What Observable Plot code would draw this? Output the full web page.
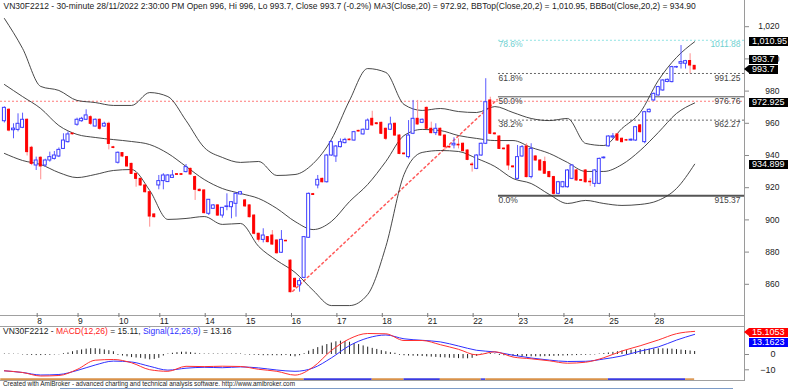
<!DOCTYPE html>
<html><head><meta charset="utf-8">
<script src="https://cdn.jsdelivr.net/npm/d3@7"></script>
<script src="https://cdn.jsdelivr.net/npm/@observablehq/plot@0.6"></script>
<style>
body{margin:0;background:#fff;}
#wrap{position:relative;width:788px;height:390px;overflow:hidden;background:#fff;font-family:Arial,"Liberation Sans",sans-serif;}
#wrap svg{position:absolute;left:0;}
.tag{position:absolute;height:9px;line-height:9px;font-size:9px;color:#fff;padding:0 3px;white-space:nowrap;}
.arr{position:absolute;width:0;height:0;border-top:4.5px solid transparent;border-bottom:4.5px solid transparent;}
.txt{position:absolute;white-space:nowrap;}
</style></head><body><div id="wrap"></div><script>
// ---------- data ----------
const open = [961.6,968.7,956,956.2,957.5,962.5,945.1,934.1,938.9,934.1,
937.2,938.2,939.7,944.4,948.6,953.9,959.4,961.6,962.5,964.1,
958.3,962.5,958.3,960,945.4,935.8,941.8,939.3,935.1,928.9,
925.8,921.7,917.5,903.7,921.7,924.4,923.8,926.4,928.7,928.7,
930,932,926.9,919,918.6,904.1,907.2,909.3,903,908.3,
908.2,910.3,916.1,912.4,909.3,903,891.7,887.9,889.6,890.6,
887.5,879.9,887.3,875,863.7,859.6,864.3,889.2,916.3,921.7,
925.8,923.7,940.3,939.7,945.5,948,950.2,949.6,955.6,953.4,
956.3,963.1,960.3,960.6,956.9,956.3,960,952.7,941.5,939.3,
953.8,963.1,960.6,969.9,956.9,954.2,956.9,952.7,945.7,946.6,
947,947.6,943.4,934.7,932,940.3,947.6,974.5,954,952.1,
944.6,946.5,933.5,925.8,939.7,945.9,926.9,939.7,937.2,936.2,
930,926.9,916.5,920.6,920.6,925.8,931,925,931,924,
922.7,922.7,938.6,946,951.5,953.4,950.7,949.8,949.6,949.6,
959,948.6,967.2,974.5,977.6,980.7,986,985.9,995,997.3,
997.3,999,996];
const high = [970.5,969.5,960,966.2,966.6,963,946,939.3,939.5,938,
942.4,942.8,945,953.8,955,954.3,963.5,964,968.7,965,
963,963,961,961,946,942.5,942,939.8,935.5,929.5,
926,922,918,904,927.9,929,928.5,931,929,929,
934.7,932.5,927.5,919.5,919,913,909.8,909.8,908,916.5,
911.5,917,918,913,909.8,903.5,892,894.8,890,893.7,
888,893.7,887.8,875.5,864.2,864,890,917,916.8,927.9,
926.3,941,949.5,946.5,950.6,951,950.6,955.3,956,956.8,
963,967.8,960.8,961,957.3,964.1,960.5,953.2,942,962,
974.5,974.5,963,970.4,961,960,957.4,953.2,946.2,951.3,
950.7,948.1,943.9,936,940.8,948,988,976.5,954.5,952.6,
945,947,934,946.5,946.5,947.6,947.6,940.2,937.7,939.3,
930.5,927.4,924.2,924.2,931.5,934.6,931.5,925.5,931.5,926,
931.5,938.7,939.5,952.6,954,953.9,951.2,950.3,950.6,958.4,
959.5,967.7,969.2,979.1,983.3,987.4,987.8,995.7,995.7,1008.6,
999.4,1003.5,996];
const low = [960.5,955,950.7,955,957,940,934,931,925.2,933,
936.2,937.5,939,944,948,953,958.5,961,962,959,
958,956,957.8,943.8,944.5,935,939,933,928.5,920.6,
921.2,917,895.8,901.5,919,919,923.5,926,928,928,
929.5,928,912.4,917.8,904,903,906.8,902.5,901.4,906,
901,902,915.8,908,901.5,891,886.5,886,886,884.5,
879,879.5,886.8,855,858,855.4,863.8,888.8,915.5,919.6,
923.2,923.2,939.8,936,945,947.5,949.5,949.2,955,953,
955.9,958.5,959.3,953.3,949.6,955.8,952.2,940.8,940.6,938.2,
953.3,959.1,960.1,956.4,953.7,952.7,952.2,943.4,944.8,944.4,
944.4,942.5,937.1,930,931.5,939.8,947.1,953.3,953,944,
943.7,931,932.5,925,939.2,926.4,925.8,936.7,930.5,928.5,
926.4,915.4,916,920.1,920.1,925.3,924.3,924.1,923.2,921,
920.5,922.2,938.1,945.5,950.5,949.1,948.1,949.1,949.1,949.1,
954.3,947.6,966.7,974,977.1,980.2,985.5,985.4,994.5,994,
994,991,993.7];
const close = [969.9,955.8,957,960,962.5,942.4,935.1,937.2,933.5,937.2,
939.3,940.3,943.8,949.6,953.4,953.5,962.5,963.1,965.2,960,
962.5,956.9,960,947.5,945,942,939.7,933.5,928.9,925.8,
921.7,917.5,902.4,902,924.4,927.9,927.9,927.9,928.3,928.3,
933.1,928.5,919,918.2,904.5,912.8,909.3,903,907.8,908.7,
911.3,916.5,917.5,908.7,902,891.7,888,890.6,886.5,885,
879.6,887.9,887,855.4,858.5,862.3,889.6,916.5,915.8,925.2,
923.7,940.3,948.6,945.9,948.6,950,949.8,954.8,955.2,956.3,
962,959,959.8,953.8,950.7,959.6,952.7,941.3,941.1,952.7,
963.1,959.6,962.5,956.9,954.2,956.9,952.7,945.5,945.3,947.6,
946.6,943,937.6,934.3,940.3,947.6,973.4,953.8,953.5,944.4,
944.2,934.1,933,939.3,945.5,926.9,944.4,937.2,931,929,
926.9,916.5,923.7,923.7,931,934.1,924.8,924.6,923.7,923.7,
931,938.2,939,952.1,952.2,949.6,948.6,949.6,950.1,957.9,
954.8,967.2,968.7,978.6,982.8,986.9,987.3,995.2,995.2,998.3,
998.9,996.2,993.7];

const dayLabels = ["8","9","10","11","14","15","16","17","18","21","22","23","24","25","28"];
const dayStart  = [7,16,25,34,44,53,63,73,83,93,103,113,123,133,143];

// Bollinger bands, read every 4 bars
const bbIdx = [0,4,8,12,16,20,24,28,32,36,40,44,48,52,56,60,64,68,72,76,80,84,88,92,96,100,104,108,112,116,120,124,128,132,136,140,144,148,152];
const bbTop = [1025.4,1006.8,983.2,980.7,974.5,973.2,971.4,971.4,979.4,976.9,962.0,945.3,939.1,936.0,936.6,927.9,928.5,935.3,950.2,974.5,994.3,991.9,972.0,968.3,969.5,967.6,967.0,970.7,967.0,963.3,962.0,963.3,947.8,946.5,957.1,967.0,986.9,1001.2,1010.95];
const bbMid = [984.4,976.9,969.5,958.9,953.4,951.5,950.2,949.0,947.1,941.6,933.5,925.4,919.8,916.7,913.6,907.4,899.3,894.3,899.3,911.7,922.3,936.6,952.7,956.5,955.8,952.7,950.9,949.6,949.6,945.3,941.6,936.0,930.4,930.4,934.7,943.4,954.6,966.4,972.925];
const bbBot = [941.6,937.2,934.7,929.7,926.6,928.5,931.0,931.6,918.6,900.6,901.2,902.4,897.5,898.1,883.8,875.1,867.7,856.5,847.1,847.1,854.0,883.8,928.5,942.2,943.4,942.8,938.5,933.5,926.0,922.9,916.1,910.5,912.4,910.5,909.3,909.9,912.4,919.8,934.899];

// MACD and signal read at the same bars
const macdLine = [-10.65,-11.76,-14.05,-13.73,-9.80,-3.73,-3.27,-5.42,-9.93,-10.98,-7.71,-7.91,-7.65,-7.84,-9.67,-10.98,-13.46,-8.17,2.61,10.26,13.73,13.53,9.15,9.15,6.41,3.40,-0.26,1.76,-1.63,-2.81,-4.12,-5.69,-5.03,-2.09,2.29,5.69,9.48,13.59,15.11];
const signalLine = [-10.65,-11.76,-13.40,-13.07,-10.46,-6.86,-4.31,-4.90,-7.71,-10.20,-8.95,-8.37,-8.63,-8.10,-8.76,-10.13,-10.98,-8.82,-2.22,5.82,10.78,12.75,10.26,9.28,8.24,5.56,2.75,1.70,-0.46,-2.29,-3.66,-4.58,-4.44,-2.94,-0.92,2.22,4.97,9.41,13.16];
const macdHist = [0.3,0.3,0.2,0.2,-0.3,-0.5,-0.6,-0.7,-0.7,-0.6,
-0.5,-0.3,-0.2,0.5,1,1.8,2.5,3,3.5,3.8,
3.8,3.5,3,2.5,1.8,-0.5,-1,-1.5,-2,-2.3,
-2.5,-3,-3.5,-3.2,-2.5,-1,0.3,0.8,1.2,1.5,
1.5,1.2,0.8,0.4,0.3,0.3,0.3,0.3,0.3,0.3,
0.3,0.4,0.3,-0.3,-0.4,-0.5,-0.6,-0.8,-0.8,-0.8,
-0.8,-0.8,-0.6,-1.2,-1.5,-0.8,0.5,2.2,3.3,4.5,
5.5,6.5,7.5,8.3,8.7,8.5,8,7.2,6.5,5.6,
4.8,4,3.3,2.5,1.8,1.2,0.8,-0.5,-0.8,-1.0,
-1.1,-1.2,-1.3,-1.5,-1.7,-1.9,-2.1,-2.2,-2.4,-2.5,
-2.7,-2.8,-2.8,-2.5,-1.2,0.3,0.6,0.6,0.3,-0.6,
-0.8,-1,-1.2,-1.3,-1.4,-1.5,-1.5,-1.5,-1.5,-1.4,
-1.3,-1.2,-1.1,-1.0,-0.9,-0.8,-0.7,-0.6,-0.5,-0.4,
-0.3,0.3,0.6,1.0,1.4,1.8,2.2,2.5,2.8,3.0,
3.2,3.4,3.5,3.6,3.7,3.7,3.6,3.5,3.2,2.9,
2.6,2.3,1.95];
const ribbonFrom  = [-0.8,66,81,88,96,105,106,133,150];
const ribbonTo    = [66,81,88,96,105,106,133,150,152];
const ribbonState = ["down","up","down","up","down","up","down","up","down"];

// Fibonacci retracement
const fibPct = ["78.6%","61.8%","50.0%","38.2%","0.0%"];
const fibVal = [1011.88,991.25,976.76,962.27,915.37];
const fibFrom = 108.8;
// drawn lines
const refLevel = 974;
const trendIdx = [63.5,108.5];
const trendVal = [856,975];

const yTicks = [860,880,900,920,940,960,980,1000,1020];
const macdTicks = [-10,0];
const tagText  = ["1,010.95","993.7","993.7","972.925","934.899"];
const tagValue = [1010.95,993.7,993.7,972.925,934.899];
const macdTagText  = ["15.1053","13.1623"];
const macdTagValue = [15.1053,13.1623];

const titleText = "VN30F2212 - 30-minute 28/11/2022 2:30:00 PM Open 996, Hi 996, Lo 993.7, Close 993.7 (-0.2%) MA3(Close,20) = 972.92, BBTop(Close,20,2) = 1,010.95, BBBot(Close,20,2) = 934.90";
const footerText = "Created with AmiBroker - advanced charting and technical analysis software. http://www.amibroker.com";

// ---------- build ----------
const FONT = "Arial, 'Liberation Sans', sans-serif";
const xDomain = [-0.86, 162.98];
const bars = open.map((o, i) => ({i, o, h: high[i], l: low[i], c: close[i], up: close[i] >= o}));
const upBars = bars.filter(d => d.up), dnBars = bars.filter(d => !d.up);
const band = arr => bbIdx.map((x, k) => ({x, y: arr[k]}));
const fib = fibPct.map((p, k) => ({p, v: fibVal[k]}));
const fibStyle = {
  "78.6%": {stroke: "#8fe3e3", dash: "2,2", w: 1, text: "#6fd0d0"},
  "61.8%": {stroke: "#666", dash: "2,2", w: 1, text: "#444"},
  "50.0%": {stroke: "#555", dash: null, w: 1, text: "#444"},
  "38.2%": {stroke: "#666", dash: "2,2", w: 1, text: "#444"},
  "0.0%":  {stroke: "#555", dash: null, w: 2, text: "#444"}
};
const fibMarks = fib.map(d => Plot.ruleY([d], {y: "v", x1: () => fibFrom, x2: () => xDomain[1], stroke: fibStyle[d.p].stroke, strokeWidth: fibStyle[d.p].w, strokeDasharray: fibStyle[d.p].dash || undefined}));

const main = Plot.plot({
  width: 788, height: 326,
  marginLeft: 0, marginRight: 44, marginTop: 0, marginBottom: 11,
  x: {domain: xDomain, axis: null},
  y: {domain: [840.93, 1036.58], axis: null},
  style: {fontFamily: FONT, background: "transparent", color: "#222"},
  marks: [
    Plot.ruleY([refLevel], {stroke: "#ff7a7a", strokeDasharray: "2,2"}),
    ...fibMarks,
    Plot.text(fib, {x: () => fibFrom, y: "v", text: "p", textAnchor: "start", lineAnchor: "top", dy: 1, dx: 0, fontSize: 8.5, fill: d => fibStyle[d.p].text}),
    Plot.text(fib, {x: () => xDomain[1], y: "v", text: d => d.v.toFixed(2), textAnchor: "end", lineAnchor: "top", dy: 1, dx: -4, fontSize: 8.5, fill: d => fibStyle[d.p].text}),
    Plot.line(trendIdx.map((x, k) => ({x, y: trendVal[k]})), {x: "x", y: "y", stroke: "#ff5a5a", strokeDasharray: "2,3"}),
    Plot.line(band(bbTop), {x: "x", y: "y", stroke: "#333", strokeWidth: 0.9, curve: "monotone-x"}),
    Plot.line(band(bbMid), {x: "x", y: "y", stroke: "#333", strokeWidth: 0.9, curve: "monotone-x"}),
    Plot.line(band(bbBot), {x: "x", y: "y", stroke: "#333", strokeWidth: 0.9, curve: "monotone-x"}),
    Plot.ruleX(bars, {x: "i", y1: "l", y2: "h", stroke: d => d.up ? "#5a5aff" : "#ff8f8f", strokeWidth: 1}),
    Plot.rect(dnBars, {x1: d => d.i - 0.22, x2: d => d.i + 0.22, y1: "o", y2: "c", fill: "#ff0000", stroke: "#ff0000", strokeWidth: 1}),
    Plot.rect(upBars, {x1: d => d.i - 0.33, x2: d => d.i + 0.33, y1: "o", y2: "c", fill: "#fff", stroke: "#3c3cff", strokeWidth: 1}),
    Plot.frame({anchor: "bottom", stroke: "#a0a0a0"}),
    Plot.axisY({anchor: "right", ticks: yTicks, tickFormat: d3.format(","), tickSize: 4, tickPadding: 31, textAnchor: "end", fontSize: 8.5, dy: -0.5, stroke: "#888", fill: "#222"}),
    Plot.axisX({anchor: "bottom", ticks: dayStart, tickFormat: d => dayLabels[dayStart.indexOf(d)], tickSize: 4, tickPadding: 0, dy: -2, textAnchor: "start", dx: 1, fontSize: 8.5, stroke: "#777", fill: "#222"}),
    Plot.text([titleText], {frameAnchor: "top-left", dx: 3, dy: 2, lineAnchor: "top", fontSize: 8.5, fill: "#222"})
  ]
});
main.style.top = "0px";

const histData = macdHist.map((h, i) => ({i, h}));
const mline = arr => bbIdx.map((x, k) => ({x, y: arr[k]}));
const ribbon = ribbonFrom.map((f, k) => ({f, t: ribbonTo[k], s: ribbonState[k]}));
const mYDomain = [-16.99, 18.30];
const macd = Plot.plot({
  width: 788, height: 64,
  marginLeft: 0, marginRight: 44, marginTop: 0, marginBottom: 10,
  x: {domain: xDomain, axis: null},
  y: {domain: mYDomain, axis: null},
  style: {fontFamily: FONT, background: "transparent", color: "#222"},
  marks: [
    Plot.ruleX(histData, {x: "i", y1: () => 0, y2: "h", stroke: "#222", strokeWidth: 1}),
    Plot.line(mline(signalLine), {x: "x", y: "y", stroke: "#3030ff", strokeWidth: 1, curve: "monotone-x"}),
    Plot.line(mline(macdLine), {x: "x", y: "y", stroke: "#ff3030", strokeWidth: 1, curve: "monotone-x"}),
    Plot.ruleY(ribbon, {y: () => mYDomain[0] + 0.9, x1: "f", x2: "t", stroke: d => d.s === "up" ? "#3a3ae0" : "#d9924a", strokeWidth: 1.6}),
    Plot.frame({anchor: "top", stroke: "#a0a0a0"}),
    Plot.frame({anchor: "bottom", stroke: "#a0a0a0"}),
    Plot.axisY({anchor: "right", ticks: macdTicks, tickSize: 4, tickPadding: 27, textAnchor: "end", fontSize: 9, stroke: "#888", fill: "#222"})
  ]
});
macd.style.top = "326px";

const wrap = document.getElementById("wrap");
wrap.appendChild(main);
wrap.appendChild(macd);

// right vertical axis line through both panels
const vline = document.createElement("div");
Object.assign(vline.style, {position: "absolute", left: "744px", top: "0px", width: "1px", height: "381px", background: "#9a9a9a"});
wrap.appendChild(vline);

function tag(text, yPix, bg, arrow) {
  const d = document.createElement("div");
  d.className = "tag"; d.textContent = text;
  d.style.background = bg; d.style.left = "749px"; d.style.top = (yPix - 4.5) + "px";
  wrap.appendChild(d);
  if (arrow) {
    const a = document.createElement("div");
    a.className = "arr"; a.style.borderRight = "5px solid " + bg;
    a.style.left = "744px"; a.style.top = (yPix - 4.5) + "px";
    wrap.appendChild(a);
  }
}
const ys = main.scale("y");
tag(tagText[0], ys.apply(tagValue[0]), "#000", false);
tag(tagText[1], ys.apply(tagValue[1]) - 9.5, "#000", false);
tag(tagText[2], ys.apply(tagValue[2]), "#000", true);
tag(tagText[3], ys.apply(tagValue[3]), "#000", false);
tag(tagText[4], ys.apply(tagValue[4]) + 1, "#000", false);
const ms = macd.scale("y");
tag(macdTagText[0], 326 + ms.apply(macdTagValue[0]) + 1.5, "#ff0000", true);
tag(macdTagText[1], 326 + ms.apply(macdTagValue[1]) + 9, "#0000ff", false);

// MACD panel title (multi-coloured)
const mt = document.createElement("div");
mt.className = "txt";
Object.assign(mt.style, {left: "3px", top: "326px", fontSize: "8.5px", lineHeight: "10px", color: "#222"});
mt.innerHTML = 'VN30F2212 - <span style="color:#ff2020">MACD(12,26)</span> = 15.11, <span style="color:#3030ff">Signal(12,26,9)</span> = 13.16';
wrap.appendChild(mt);

const ft = document.createElement("div");
ft.className = "txt"; ft.textContent = footerText;
Object.assign(ft.style, {left: "3px", top: "380px", fontSize: "6.4px", lineHeight: "8px", color: "#222"});
wrap.appendChild(ft);
const fl = document.createElement("div");
Object.assign(fl.style, {position: "absolute", left: "60px", top: "388px", width: "673px", height: "1px", background: "#7d9cc8"});
wrap.appendChild(fl);
</script></body></html>
